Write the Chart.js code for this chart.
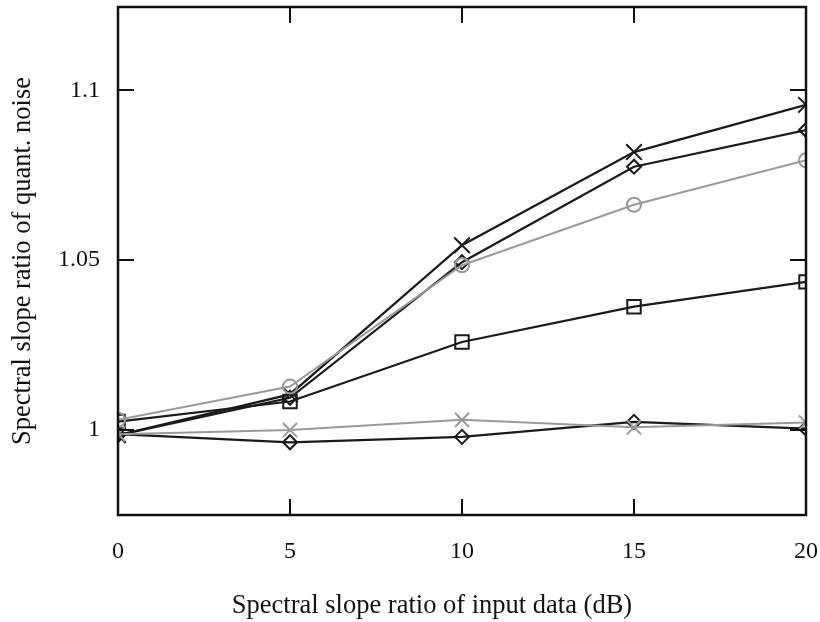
<!DOCTYPE html>
<html>
<head>
<meta charset="utf-8">
<script src="https://cdn.jsdelivr.net/npm/chart.js@4"></script>
<style>
html,body{margin:0;padding:0;background:#fff;}
#wrap{width:820px;height:622px;position:relative;}
</style>
</head>
<body>
<div id="wrap"><canvas id="c" width="820" height="622"></canvas></div>
<script>
const xValues = [0, 5, 10, 15, 20];
const blackCross = [0.9985, 1.0105, 1.0544, 1.0818, 1.0957];
const blackDiamondHigh = [0.9985, 1.0095, 1.0494, 1.0775, 1.0883];
const grayCircle = [1.0030, 1.0128, 1.0485, 1.0663, 1.0794];
const blackSquare = [1.0025, 1.0084, 1.0259, 1.0363, 1.0436];
const grayCross = [0.9988, 1.0000, 1.0030, 1.0008, 1.0022];
const blackDiamondLow = [0.9988, 0.9964, 0.9980, 1.0024, 1.0004];
const xTicks = [0, 5, 10, 15, 20];
const yTicks = [1, 1.05, 1.1];
const xTitle = 'Spectral slope ratio of input data (dB)';
const yTitle = 'Spectral slope ratio of quant. noise';

const BLACK = '#1a1a1a';
const GRAY = '#9a9a9a';

function pts(arr){ return xValues.map((x,i)=>({x:x,y:arr[i]})); }
function ds(data, color, style, radius, width){
  return {data:pts(data), borderColor:color, backgroundColor:'rgba(0,0,0,0)',
    pointBorderColor:color, pointBackgroundColor:'rgba(0,0,0,0)',
    pointStyle:style, pointRadius:radius, pointBorderWidth:2,
    borderWidth:width, tension:0, clip:0};
}

const framePlugin = {
  id:'frame',
  afterDatasetsDraw(chart){
    const {ctx, chartArea:a, scales:{x, y}} = chart;
    ctx.save();
    ctx.strokeStyle = '#111';
    ctx.lineWidth = 2.5;
    ctx.strokeRect(a.left, a.top, a.right - a.left, a.bottom - a.top);
    const L = 16;
    ctx.lineWidth = 2;
    ctx.beginPath();
    xTicks.forEach(v=>{
      const px = Math.round(x.getPixelForValue(v));
      ctx.moveTo(px, a.bottom); ctx.lineTo(px, a.bottom - L);
      ctx.moveTo(px, a.top); ctx.lineTo(px, a.top + L);
    });
    yTicks.forEach(v=>{
      const py = Math.round(y.getPixelForValue(v));
      ctx.moveTo(a.left, py); ctx.lineTo(a.left + L, py);
      ctx.moveTo(a.right, py); ctx.lineTo(a.right - L, py);
    });
    ctx.stroke();
    // x-axis title (offset left of plot centre, as in the reference)
    ctx.fillStyle = '#111';
    ctx.font = '26.5px "Liberation Serif"';
    ctx.textAlign = 'center';
    ctx.textBaseline = 'middle';
    ctx.fillText(xTitle, 432, 606);
    ctx.restore();
  }
};

new Chart(document.getElementById('c'), {
  type:'line',
  data:{datasets:[
    ds(grayCross, GRAY, 'crossRot', 10, 2),
    ds(grayCircle, GRAY, 'circle', 7, 2),
    ds(blackDiamondLow, BLACK, 'rectRot', 7, 2.2),
    ds(blackSquare, BLACK, 'rect', 9.5, 2.2),
    ds(blackDiamondHigh, BLACK, 'rectRot', 7, 2.2),
    ds(blackCross, BLACK, 'crossRot', 11, 2.2)
  ]},
  options:{
    responsive:false, animation:false, devicePixelRatio:1,
    layout:{autoPadding:false, padding:{left:0, right:14, top:7, bottom:0}},
    plugins:{legend:{display:false}, tooltip:{enabled:false}},
    scales:{
      x:{type:'linear', min:0, max:20,
        afterBuildTicks(s){ s.ticks = xTicks.map(v=>({value:v})); },
        afterFit(s){ s.height = 107; s.paddingLeft = 0; s.paddingRight = 0; },
        grid:{display:false, drawTicks:false}, border:{display:false},
        ticks:{color:'#111', padding:22, maxRotation:0, font:{family:'Liberation Serif', size:24}},
        title:{display:false}
      },
      y:{type:'linear', min:0.975, max:1.1245,
        afterBuildTicks(s){ s.ticks = yTicks.map(v=>({value:v})); },
        afterFit(s){ s.width = 118; s.paddingTop = 0; s.paddingBottom = 0; },
        grid:{display:false, drawTicks:false}, border:{display:false},
        ticks:{color:'#111', padding:18, font:{family:'Liberation Serif', size:24},
          callback:(v)=>String(v)},
        title:{display:true, text:yTitle, color:'#111', padding:{top:7,bottom:0}, font:{family:'Liberation Serif', size:26.5}}
      }
    }
  },
  plugins:[framePlugin]
});
</script>
</body>
</html>
